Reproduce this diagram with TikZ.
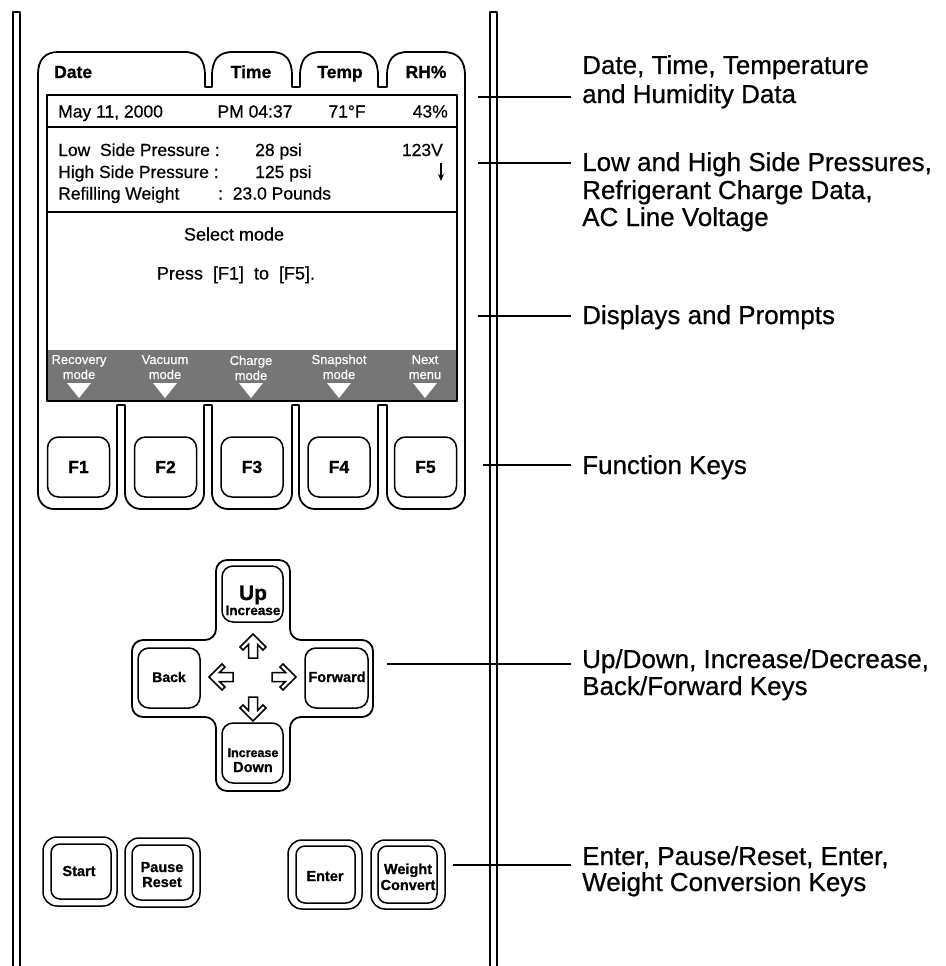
\documentclass[tikz,border=0pt]{standalone}
\usepackage{fontspec}
\setmainfont{Liberation Sans}[FakeBold=0.6, BoldFeatures={FakeBold=0.9}]
\usetikzlibrary{arrows.meta}
\definecolor{band}{RGB}{118,118,118}
\begin{document}
\begin{tikzpicture}[x=1pt,y=-1pt,
  outl/.style={line width=1.8pt, line join=round},
  txt/.style={inner sep=0pt, anchor=base},
  disp/.style={txt, font=\fontsize{17.5}{18}\selectfont},
  tabt/.style={txt, font=\bfseries\fontsize{17.5}{18}\selectfont},
  bandt/.style={txt, text=white, font=\fontsize{13}{13}\selectfont},
  fkey/.style={draw, line width=1.5pt, rounded corners=11pt, minimum width=62pt, minimum height=60pt, inner sep=0pt, font=\bfseries\fontsize{17.5}{17}\selectfont},
  ckey/.style={draw, line width=1.5pt, rounded corners=11pt, inner sep=0pt},
  okey/.style={draw, line width=1.5pt, rounded corners=14pt, minimum width=74pt, minimum height=69pt, inner sep=0pt},
  ikey/.style={draw, line width=1.5pt, rounded corners=9pt, minimum width=60pt, minimum height=55pt, inner sep=0pt},
  keyt/.style={txt, font=\bfseries\fontsize{14.5}{15}\selectfont},
  lbl/.style={inner xsep=11pt, inner ysep=0pt, anchor=base west, font=\fontsize{26}{28}\selectfont},
  lline/.style={line width=1.8pt},
  harrow/.pic={\draw[line width=1.5pt, line join=miter] (0,-12) -- (13,1) -- (10,4) -- (4.5,-1.5) -- (4.5,12) -- (-4.5,12) -- (-4.5,-1.5) -- (-10,4) -- (-13,1) -- cycle;}
]
\useasboundingbox (0,0) rectangle (945,966);

% side bars
\draw[outl] (13,966) -- (13,12) -- (20,12) -- (20,966);
\draw[outl] (490,966) -- (490,12) -- (497,12) -- (497,966);

% outer housing outline with tabs and key bays
\draw[outl] (38,74) .. controls (38,60) and (45,52) .. (58,52) -- (184,52)
  .. controls (199,52) and (205,60) .. (205,76) -- (205,87) -- (212,87) -- (212,76)
  .. controls (212,60) and (218,52) .. (233,52) -- (271,52)
  .. controls (286,52) and (292,60) .. (292,76) -- (292,87) -- (300,87) -- (300,76)
  .. controls (300,60) and (306,52) .. (321,52) -- (357,52)
  .. controls (372,52) and (378,60) .. (378,76) -- (378,87) -- (387,87) -- (387,76)
  .. controls (387,60) and (393,52) .. (408,52) -- (443,52)
  .. controls (458,52) and (465,60) .. (465,76)
  -- (465,493) .. controls (465,502) and (458,509) .. (449,509) -- (403,509)
  .. controls (394,509) and (387,502) .. (387,493) -- (387,405) -- (378,405)
  -- (378,493) .. controls (378,502) and (371,509) .. (362,509) -- (315,509)
  .. controls (306,509) and (299,502) .. (299,493) -- (299,405) -- (292,405)
  -- (292,493) .. controls (292,502) and (285,509) .. (276,509) -- (228,509)
  .. controls (219,509) and (212,502) .. (212,493) -- (212,405) -- (204,405)
  -- (204,493) .. controls (204,502) and (197,509) .. (188,509) -- (141,509)
  .. controls (132,509) and (125,502) .. (125,493) -- (125,405) -- (117,405)
  -- (117,493) .. controls (117,502) and (110,509) .. (101,509) -- (54,509)
  .. controls (45,509) and (38,502) .. (38,493) -- cycle;

% tab labels
\node[tabt, anchor=base west] (tdate) at (54,78) {Date};
\node[tabt] (ttime) at (251,78) {Time};
\node[tabt] (ttemp) at (340,78) {Temp};
\node[tabt] (trh) at (426,78) {RH\%};

% screen
\fill[band] (47,350) rectangle (457,401);
\draw[outl] (47,95) rectangle (457,401);
\draw[outl] (47,127) -- (457,127);
\draw[outl] (47,212) -- (457,212);

\node[disp, anchor=base west] (sdate) at (58,117.5) {May 11, 2000};
\node[disp] (stime) at (255,117.5) {PM 04:37};
\node[disp] (stemp) at (347,117.5) {71°F};
\node[disp, anchor=base east] (srh) at (448,117.5) {43\%};

\node[disp, anchor=base west] (plo) at (58,156) {Low\ \ Side Pressure :};
\node[disp, anchor=base west] (plov) at (255,156) {28 psi};
\node[disp, anchor=base west] (phi) at (58,178) {High Side Pressure :};
\node[disp, anchor=base west] (phiv) at (255,178) {125 psi};
\node[disp, anchor=base west] (pref) at (58,199.5) {Refilling Weight};
\node[disp, anchor=base west] (prefv) at (218,199.5) {:\ \ 23.0 Pounds};
\node[disp, anchor=base east] (pvolt) at (443,156) {123V};
\coordinate (va) at (441,163);
\coordinate (vb) at (441,181);
\draw[line width=1.4pt, -{Stealth[length=7pt,width=6pt]}] (va) -- (vb);

\node[txt, font=\fontsize{18}{18}\selectfont] (sel) at (234,240.5) {Select mode};
\node[txt, font=\fontsize{18}{18}\selectfont] (press) at (236,279.5) {Press\ \ [F1]\ \ to\ \ [F5].};

% band labels and triangles
\node[bandt] (b1a) at (79,364) {Recovery};
\node[bandt] (b1b) at (79,379) {mode};
\node[bandt] (b2a) at (165,364) {Vacuum};
\node[bandt] (b2b) at (165,379) {mode};
\node[bandt] (b3a) at (251,365) {Charge};
\node[bandt] (b3b) at (251,380) {mode};
\node[bandt] (b4a) at (339,364) {Snapshot};
\node[bandt] (b4b) at (339,379) {mode};
\node[bandt] (b5a) at (425,364) {Next};
\node[bandt] (b5b) at (425,379) {menu};
\foreach \c in {79,165,251,339,425}{
  \fill[white] (\c-12,383) -- (\c+12,383) -- (\c,398) -- cycle;
}

% function keys
\node[fkey] (f1) at (78.5,467) {F1};
\node[fkey] (f2) at (165.5,467) {F2};
\node[fkey] (f3) at (252,467) {F3};
\node[fkey] (f4) at (339,467) {F4};
\node[fkey] (f5) at (425.5,467) {F5};

% cross pad
\draw[outl, rounded corners=11pt] (216,560) -- (290,560) -- (290,640) -- (373,640) -- (373,717)
  -- (290,717) -- (290,791) -- (216,791) -- (216,717) -- (132,717) -- (132,640) -- (216,640) -- cycle;
\node[ckey, minimum width=61pt, minimum height=56pt] (kup) at (252.5,594) {};
\node[ckey, minimum width=61pt, minimum height=60pt] (kdown) at (252.5,753) {};
\node[ckey, minimum width=62pt, minimum height=60pt] (kback) at (169,678) {};
\node[ckey, minimum width=63pt, minimum height=60pt] (kfwd) at (336.5,678) {};
\node[txt, font=\bfseries\fontsize{21}{21}\selectfont] (tup) at (253,600) {Up};
\node[txt, font=\bfseries\fontsize{13.5}{14}\selectfont] (tupi) at (253,615) {Increase};
\node[txt, font=\bfseries\fontsize{12.5}{13}\selectfont] (tdni) at (253,757) {Increase};
\node[txt, font=\bfseries\fontsize{14.5}{15}\selectfont] (tdn) at (253,772) {Down};
\node[txt, font=\bfseries\fontsize{14}{15}\selectfont] (tback) at (169,682) {Back};
\node[txt, font=\bfseries\fontsize{14.5}{15}\selectfont] (tfwd) at (337,682) {Forward};
\pic at (253,646) {harrow};
\pic[rotate=90] at (221,677) {harrow};
\pic[rotate=-90] at (284,677) {harrow};
\pic[rotate=180] at (253,709) {harrow};

% bottom keys
\node[okey] (ostart) at (80,871.5) {};
\node[ikey] (istart) at (81,871.5) {};
\node[keyt] (tstart) at (79,876) {Start};
\node[okey, minimum width=75pt] (opause) at (162.5,872.5) {};
\node[ikey, minimum width=61pt] (ipause) at (162.5,872.5) {};
\node[keyt] (tpause) at (162,872) {Pause};
\node[keyt] (treset) at (162,887) {Reset};
\node[okey] (oenter) at (325,874.5) {};
\node[ikey, minimum width=59pt, minimum height=57pt] (ienter) at (325.5,874.5) {};
\node[keyt] (tenter) at (325,881) {Enter};
\node[okey] (oweight) at (408,874.5) {};
\node[ikey, minimum width=59pt, minimum height=57pt] (iweight) at (407.5,874.5) {};
\node[keyt] (tweight) at (408,874) {Weight};
\node[keyt] (tconv) at (408,890) {Convert};

% right-hand labels
\node[lbl] (l1a) at (571,74) {Date, Time, Temperature};
\node[lbl] (l1b) at (571,103) {and Humidity Data};
\node[lbl] (l2a) at (571,171) {Low and High Side Pressures,};
\node[lbl] (l2b) at (571,199) {Refrigerant Charge Data,};
\node[lbl] (l2c) at (571,226) {AC Line Voltage};
\node[lbl] (l3) at (571,324) {Displays and Prompts};
\node[lbl] (l4) at (571,474) {Function Keys};
\node[lbl] (l5a) at (571,668) {Up/Down, Increase/Decrease,};
\node[lbl] (l5b) at (571,695) {Back/Forward Keys};
\node[lbl] (l6a) at (571,865) {Enter, Pause/Reset, Enter,};
\node[lbl] (l6b) at (571,891) {Weight Conversion Keys};

\coordinate (c1) at (478,97);
\coordinate (c2) at (478,163);
\coordinate (c3) at (478,316);
\coordinate (c4) at (483,465);
\coordinate (c5) at (387,664);
\coordinate (c6) at (453,865);
\draw[lline] (c1) -- (c1 -| l1b.west);
\draw[lline] (c2) -- (c2 -| l2a.west);
\draw[lline] (c3) -- (c3 -| l3.west);
\draw[lline] (c4) -- (c4 -| l4.west);
\draw[lline] (c5) -- (c5 -| l5a.west);
\draw[lline] (c6) -- (c6 -| l6a.west);
\end{tikzpicture}
\end{document}
